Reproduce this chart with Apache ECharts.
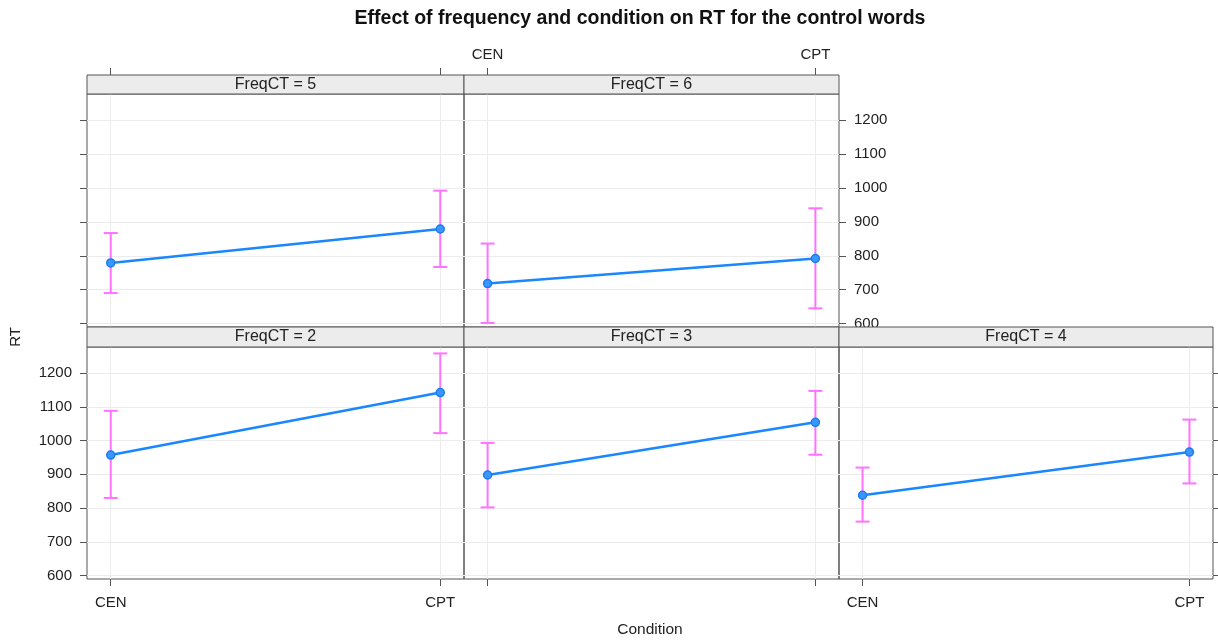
<!DOCTYPE html>
<html>
<head>
<meta charset="utf-8">
<script src="https://cdn.jsdelivr.net/npm/echarts@6/dist/echarts.min.js"></script>
<style>
html,body{margin:0;padding:0;background:#fff;}
#chart{width:1218px;height:640px;}
</style>
</head>
<body>
<div id="chart"></div>
<script>
// ---- data ----
const conditions = ['CEN', 'CPT'];
const panelNames = ['FreqCT = 5', 'FreqCT = 6', 'FreqCT = 2', 'FreqCT = 3', 'FreqCT = 4'];
const yTicks = [600, 700, 800, 900, 1000, 1100, 1200];

const meanFreq5 = [779, 879];
const lowerFreq5 = [690, 767];
const upperFreq5 = [867, 992];

const meanFreq6 = [718, 792];
const lowerFreq6 = [602, 645];
const upperFreq6 = [836, 940];

const meanFreq2 = [957, 1142];
const lowerFreq2 = [830, 1022];
const upperFreq2 = [1088, 1258];

const meanFreq3 = [898, 1054];
const lowerFreq3 = [802, 958];
const upperFreq3 = [993, 1147];

const meanFreq4 = [838, 966];
const lowerFreq4 = [760, 873];
const upperFreq4 = [920, 1062];

const means = [meanFreq5, meanFreq6, meanFreq2, meanFreq3, meanFreq4];
const lowers = [lowerFreq5, lowerFreq6, lowerFreq2, lowerFreq3, lowerFreq4];
const uppers = [upperFreq5, upperFreq6, upperFreq2, upperFreq3, upperFreq4];

// ---- layout (positions / styles only) ----
const FONT = '"Liberation Sans", Arial, Helvetica, sans-serif';
const TXT = '#222';
const layout = [
  {left: 87,  top: 94,  width: 377, height: 233, strip: 19, xPos: 'top',    xTick: true, xLab: false, yPos: 'left',  yTick: true,  yLab: false},
  {left: 464, top: 94,  width: 375, height: 233, strip: 19, xPos: 'top',    xTick: true, xLab: true,  yPos: 'right', yTick: true,  yLab: true},
  {left: 87,  top: 347, width: 377, height: 232, strip: 20, xPos: 'bottom', xTick: true, xLab: true,  yPos: 'left',  yTick: true,  yLab: true},
  {left: 464, top: 347, width: 375, height: 232, strip: 20, xPos: 'bottom', xTick: true, xLab: false, yPos: 'left',  yTick: false, yLab: false},
  {left: 839, top: 347, width: 374, height: 232, strip: 20, xPos: 'bottom', xTick: true, xLab: true,  yPos: 'right', yTick: true,  yLab: false}
];

const grids = [], xAxes = [], yAxes = [], series = [], graphics = [];
const catIdx = conditions.map((c, i) => i);

layout.forEach((L, i) => {
  grids.push({left: L.left, top: L.top, width: L.width, height: L.height,
    show: true, borderColor: '#555', borderWidth: 1, backgroundColor: 'transparent'});
  xAxes.push({
    type: 'value', gridIndex: i, min: -0.072, max: 1.072, position: L.xPos,
    offset: L.xPos === 'top' ? L.strip : 0,
    axisLine: {show: false, onZero: false},
    axisTick: {show: L.xTick, customValues: catIdx, length: 7, lineStyle: {color: '#555'}},
    axisLabel: {show: L.xLab, customValues: catIdx, margin: L.xPos === 'top' ? 13 : 16,
      formatter: v => conditions[Math.round(v)], color: TXT, fontSize: 15, fontFamily: FONT},
    splitLine: {show: true, lineStyle: {color: '#ececec', width: 1}}
  });
  yAxes.push({
    type: 'value', gridIndex: i, min: 590, max: 1277, position: L.yPos,
    axisLine: {show: false, onZero: false},
    axisTick: {show: L.yTick, customValues: yTicks, length: 7, lineStyle: {color: '#555'}},
    axisLabel: {show: L.yLab, customValues: yTicks, margin: 15, formatter: v => String(v),
      color: TXT, fontSize: 15, fontFamily: FONT},
    splitLine: {show: true, lineStyle: {color: '#ececec', width: 1}}
  });
  // error bars
  series.push({
    type: 'custom', xAxisIndex: i, yAxisIndex: i, z: 2,
    data: catIdx.map(k => [k, lowers[i][k], uppers[i][k]]),
    renderItem: (params, api) => {
      const lo = api.coord([api.value(0), api.value(1)]);
      const hi = api.coord([api.value(0), api.value(2)]);
      const w = 7;
      const st = {stroke: '#ff72ff', lineWidth: 2};
      return {type: 'group', children: [
        {type: 'line', shape: {x1: lo[0], y1: lo[1], x2: hi[0], y2: hi[1]}, style: st},
        {type: 'line', shape: {x1: lo[0] - w, y1: lo[1], x2: lo[0] + w, y2: lo[1]}, style: st},
        {type: 'line', shape: {x1: hi[0] - w, y1: hi[1], x2: hi[0] + w, y2: hi[1]}, style: st}
      ]};
    }
  });
  // means
  series.push({
    type: 'line', xAxisIndex: i, yAxisIndex: i, z: 3,
    data: catIdx.map(k => [k, means[i][k]]),
    symbol: 'circle', symbolSize: 8,
    lineStyle: {color: '#1a86ff', width: 2.5},
    itemStyle: {color: '#3a97ff', borderColor: '#1a7cf0', borderWidth: 1.5},
    silent: true, animation: false
  });
  // strip
  graphics.push({
    type: 'rect', shape: {x: L.left, y: L.top - L.strip, width: L.width, height: L.strip},
    style: {fill: '#ececec', stroke: '#555', lineWidth: 1}, z: 10
  });
  graphics.push({
    type: 'text', x: L.left + L.width / 2, y: L.top - L.strip / 2,
    style: {text: panelNames[i], textAlign: 'center', textVerticalAlign: 'middle',
      fill: TXT, font: '16px ' + FONT}, z: 11
  });
});

graphics.push({type: 'text', x: 640, y: 19,
  style: {text: 'Effect of frequency and condition on RT for the control words',
    textAlign: 'center', textVerticalAlign: 'middle', fill: '#111', font: 'bold 19.5px ' + FONT}});
graphics.push({type: 'text', x: 650, y: 630,
  style: {text: 'Condition', textAlign: 'center', textVerticalAlign: 'middle', fill: TXT, font: '15.5px ' + FONT}});
graphics.push({type: 'text', x: 16, y: 337, rotation: Math.PI / 2,
  style: {text: 'RT', textAlign: 'center', textVerticalAlign: 'middle', fill: TXT, font: '15px ' + FONT}});

const chart = echarts.init(document.getElementById('chart'));
chart.setOption({
  animation: false,
  backgroundColor: '#fff',
  grid: grids, xAxis: xAxes, yAxis: yAxes, series: series, graphic: graphics
});
</script>
</body>
</html>
